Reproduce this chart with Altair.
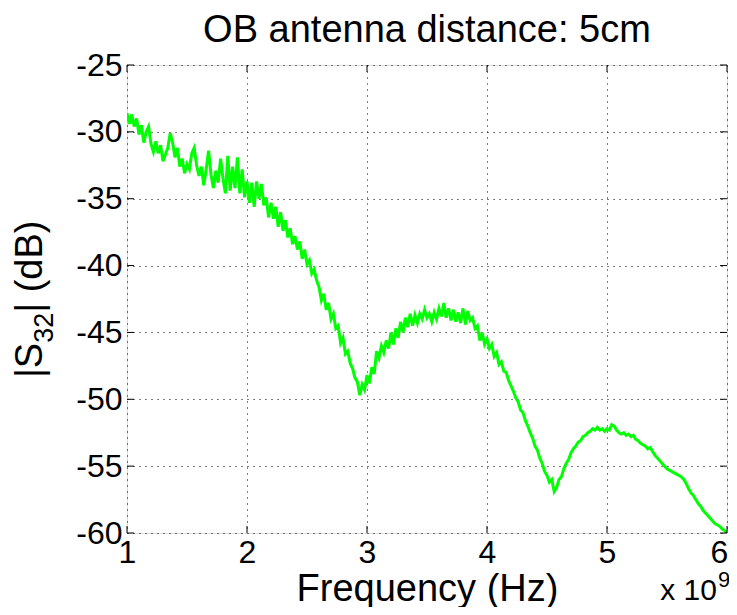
import altair as alt
import numpy as np
import pandas as pd

W, H = 600, 468
FONT = "Liberation Sans"

seg1 = [-28.6, -29.4, -28.7, -29.6, -29.0, -30.2, -29.5, -30.8, -30.0, -29.6,
        -30.9, -31.5, -30.7, -31.6, -31.0, -32.2, -31.7, -31.2, -30.1, -30.8,
        -31.9, -31.2, -32.6, -32.0, -33.1, -32.4, -32.8, -31.6, -31.2, -32.5,
        -33.3, -32.6, -34.0, -32.8, -31.4, -33.2, -34.2, -32.9, -33.8, -32.0,
        -33.5, -34.6, -31.8, -34.4, -32.6, -34.2, -31.9, -34.6, -32.8, -34.9,
        -33.7]
seg2 = [-35.3, -33.8, -35.6, -33.7, -35.0, -33.9, -35.5, -34.9, -36.4, -35.3,
        -36.5, -35.6, -37.1, -36.0, -37.4, -36.6, -37.9, -37.2, -38.4, -37.8,
        -38.8, -38.2, -39.5, -38.8, -39.9, -39.6, -40.6, -40.3, -41.1]
seg3 = [-41.6, -42.6, -42.1, -43.3, -42.8, -44.0, -43.6, -44.7, -44.5, -45.8,
        -45.4, -46.6, -46.4, -47.3, -47.7, -48.4, -48.7, -49.7, -48.9, -49.3,
        -48.2, -48.8, -47.6, -48.1, -46.4, -46.9, -46.0, -46.5, -45.6, -46.2,
        -45.0, -45.9, -44.7, -45.4, -44.2, -45.0, -43.9, -44.6, -43.6, -44.5,
        -43.7, -44.3, -43.6, -44.0, -43.3, -43.9, -43.6, -44.2, -43.5, -44.0,
        -43.2, -43.8, -42.8, -43.9, -43.2, -44.1, -43.3, -44.2, -43.5, -44.3,
        -43.2, -44.4, -43.4, -44.1, -43.9, -44.7, -44.5, -45.6, -45.0, -45.9,
        -45.5, -46.2, -45.9, -46.8, -46.5, -47.4, -47.2, -47.9, -48.0, -48.6,
        -49.0]
seg4 = [-49.4, -49.9, -50.2, -50.8, -51.0, -51.6, -52.0, -52.5, -52.9, -53.5,
        -53.8, -54.4, -54.8, -55.4, -55.7, -56.2, -56.0, -56.9, -56.6, -56.0,
        -55.8, -55.2, -54.8, -54.5, -54.0, -53.7, -53.5, -53.2, -53.1, -52.8,
        -52.7, -52.5, -52.4, -52.2, -52.3, -52.1, -52.3, -52.2, -52.4, -52.2,
        -52.3, -51.9, -52.0, -52.3, -52.5, -52.6, -52.5, -52.7, -52.6, -52.8,
        -52.7, -53.0, -53.1, -53.3, -53.4, -53.5, -53.7, -53.6, -53.9, -54.2,
        -54.4, -54.6, -54.8, -55.0, -55.2, -55.3, -55.4, -55.5, -55.6, -55.7,
        -55.8, -56.0, -56.3, -56.7, -57.0, -57.2, -57.5, -57.8, -58.0, -58.3,
        -58.5, -58.7, -58.9, -59.1, -59.3, -59.4, -59.5, -59.7, -59.8, -60.0]

s32 = seg1 + seg2 + seg3 + seg4
freq = np.round(np.linspace(1.0, 6.0, len(s32)), 2)
df = pd.DataFrame({"f": freq, "s": s32})

x_ticks = [1, 2, 3, 4, 5, 6]
y_ticks = [-60, -55, -50, -45, -40, -35, -30, -25]

title_text = "OB antenna distance: 5cm"
x_title = "Frequency (Hz)"
ylab_parts = ["|S", "32", "| (dB)"]
exp_parts = ["x 10", "9"]

xs = alt.Scale(domain=[1, 6], nice=False, zero=False)
ys = alt.Scale(domain=[-60, -25], nice=False, zero=False)

TICK_FS = 32
TITLE_FS = 38

x_axis = alt.Axis(values=x_ticks, grid=True, gridDash=[1, 5], gridColor="black",
                  gridOpacity=1, gridWidth=1, ticks=False, tickSize=0, domain=False,
                  labelFont=FONT, labelFontSize=TICK_FS, labelColor="black",
                  labelBaseline="alphabetic", labelPadding=29, labelFlush=False,
                  labelOffset={"condition": {"test": "datum.value === 6", "value": -8},
                               "value": 0},
                  labelExpr="'' + datum.value",
                  title=x_title, titleFont=FONT, titleFontSize=TITLE_FS,
                  titleFontWeight="normal", titleColor="black",
                  titleBaseline="alphabetic", titleX=W / 2, titleY=67)
y_axis = alt.Axis(values=y_ticks, grid=True, gridDash=[1, 5], gridColor="black",
                  gridOpacity=1, gridWidth=1, ticks=False, tickSize=0, domain=False,
                  labelFont=FONT, labelFontSize=TICK_FS, labelColor="black",
                  labelAlign="right", labelBaseline="middle", labelPadding=5,
                  labelFlush=False, labelExpr="'' + datum.value", title=None)

line = alt.Chart(df).mark_line(color="#00ff00", strokeWidth=3, clip=True).encode(
    x=alt.X("f:Q", scale=xs, axis=x_axis),
    y=alt.Y("s:Q", scale=ys, axis=y_axis),
    order="f:Q",
)

xt = pd.DataFrame({"f": x_ticks})
yt = pd.DataFrame({"s": y_ticks})
TL = 7
tick_b = alt.Chart(xt).mark_rule(color="black", strokeWidth=1).encode(
    x=alt.X("f:Q", scale=xs), y=alt.value(H), y2=alt.value(H - TL))
tick_t = alt.Chart(xt).mark_rule(color="black", strokeWidth=1).encode(
    x=alt.X("f:Q", scale=xs), y=alt.value(0), y2=alt.value(TL))
tick_l = alt.Chart(yt).mark_rule(color="black", strokeWidth=1).encode(
    y=alt.Y("s:Q", scale=ys), x=alt.value(0), x2=alt.value(TL))
tick_r = alt.Chart(yt).mark_rule(color="black", strokeWidth=1).encode(
    y=alt.Y("s:Q", scale=ys), x=alt.value(W), x2=alt.value(W - TL))


def txt(s, fs, x, y, align="left", angle=0):
    kw = dict(font=FONT, fontSize=fs, align=align, baseline="alphabetic", color="black")
    if angle:
        kw["angle"] = angle
    return alt.Chart(pd.DataFrame({"t": [s]})).mark_text(**kw).encode(
        text="t:N", x=alt.value(x), y=alt.value(y))


title_mark = txt(title_text, TITLE_FS, W / 2, -23, align="center")

# y-axis label with subscript, built from rotated text pieces
YL_FS, SUB_FS = TITLE_FS, 27
w_S = (0.26 + 0.667) * YL_FS
w_32 = 2 * 0.556 * SUB_FS
y0 = 313
yl_base_x = -85
ylab1 = txt(ylab_parts[0], YL_FS, yl_base_x, y0, angle=270)
ylab2 = txt(ylab_parts[1], SUB_FS, yl_base_x + 11, y0 - w_S, angle=270)
ylab3 = txt(ylab_parts[2], YL_FS, yl_base_x, y0 - w_S - w_32, angle=270)

exp1 = txt(exp_parts[0], 30, W - 10, H + 67, align="right")
exp2 = txt(exp_parts[1], 22, W - 9, H + 54)

chart = alt.layer(line, tick_b, tick_t, tick_l, tick_r, title_mark,
                  ylab1, ylab2, ylab3, exp1, exp2).properties(
    width=W, height=H,
    autosize=alt.AutoSizeParams(type="none"),
    padding={"left": 119, "top": 57, "right": 2, "bottom": 74},
).configure_view(stroke="black", strokeWidth=1).configure(background="white")

chart.save("out.html", embed_options={"renderer": "svg", "actions": False})
